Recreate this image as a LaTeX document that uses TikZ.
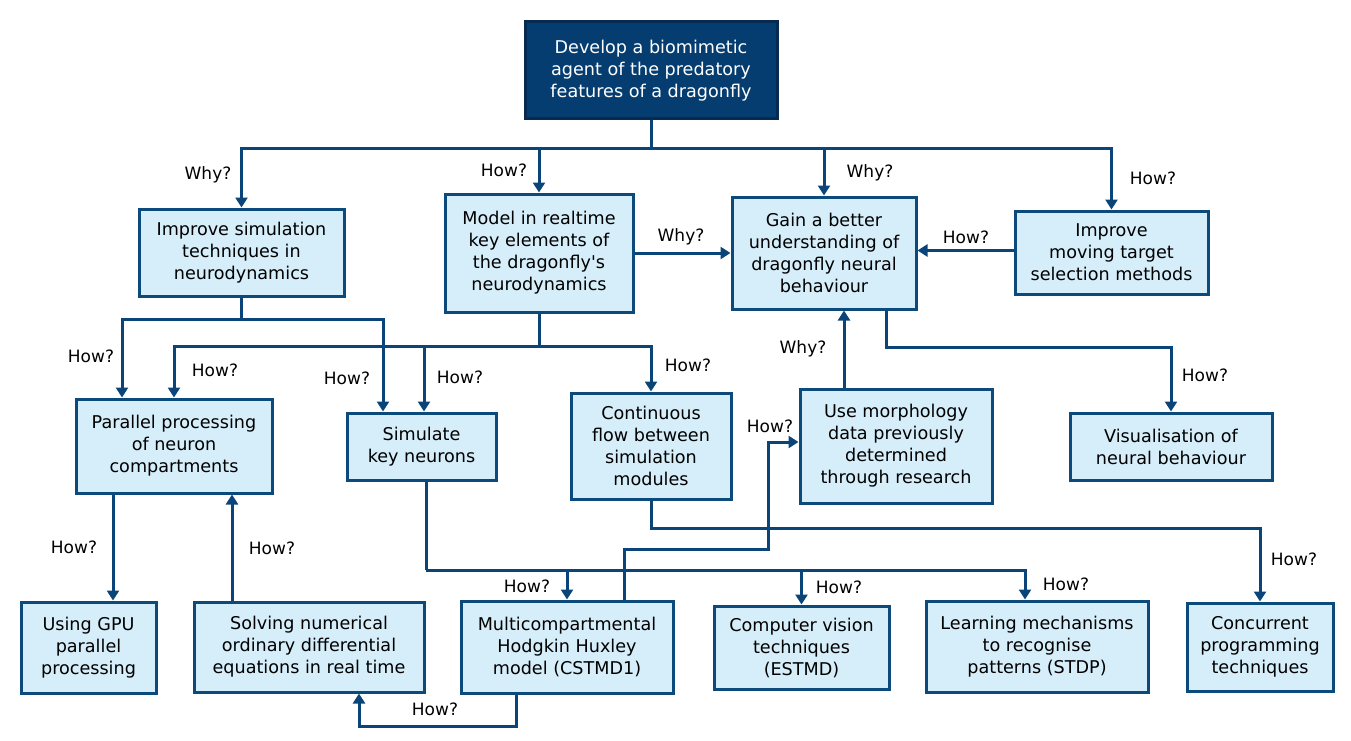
\documentclass[tikz,border=0pt]{standalone}
\usepackage{fontspec}
\setmainfont{DejaVu Sans}
\usetikzlibrary{arrows.meta}
\definecolor{navy}{HTML}{0A4478}
\definecolor{boxfill}{HTML}{D5EEFA}
\definecolor{boxline}{HTML}{0C4A7C}
\definecolor{topfill}{HTML}{053D70}
\definecolor{topline}{HTML}{062A50}
\begin{document}
\begin{tikzpicture}[x=1pt,y=-1pt,
  box/.style={draw=boxline, fill=boxfill, line width=3pt, align=center, inner sep=0pt, font=\fontsize{17.6}{22}\selectfont},
  topbox/.style={box, draw=topline, fill=topfill, text=white},
  ln/.style={draw=navy, line width=3pt},
  arr/.style={ln, -{Triangle[width=12pt,length=10pt]}},
  lab/.style={font=\fontsize{17}{20}\selectfont, inner sep=0pt}]
\useasboundingbox (0,0) rectangle (1351,741);

% boxes
\node[topbox, minimum width=252, minimum height=97] (top) at (651,70.5) {Develop a biomimetic\\agent of the predatory\\features of a dragonfly};
\node[box, minimum width=205, minimum height=87] (isim) at (241.5,252.5) {Improve simulation\\techniques in\\neurodynamics};
\node[box, minimum width=188, minimum height=118] (model) at (539,253) {Model in realtime\\key elements of\\the dragonfly\textquotesingle s\\neurodynamics};
\node[box, minimum width=184, minimum height=112] (gain) at (824,253) {Gain a better\\understanding of\\dragonfly neural\\behaviour};
\node[box, minimum width=193, minimum height=83] (imov) at (1111.5,252.5) {Improve\\moving target\\selection methods};
\node[box, minimum width=196, minimum height=94] (par) at (174,446) {Parallel processing\\of neuron\\compartments};
\node[box, minimum width=149, minimum height=67] (sim) at (421.5,446.5) {Simulate\\key neurons};
\node[box, minimum width=160, minimum height=106] (cont) at (651,446) {Continuous\\flow between\\simulation\\modules};
\node[box, minimum width=192, minimum height=114] (morph) at (896,446) {Use morphology\\data previously\\determined\\through research};
\node[box, minimum width=202, minimum height=67] (vis) at (1171,446.5) {Visualisation of\\neural behaviour};
\node[box, minimum width=135, minimum height=91] (gpu) at (88.5,647.5) {Using GPU\\parallel\\processing};
\node[box, minimum width=230, minimum height=90] (solv) at (309,647) {Solving numerical\\ordinary differential\\equations in real time};
\node[box, minimum width=212, minimum height=92] (multi) at (567,647) {Multicompartmental\\Hodgkin Huxley\\model (CSTMD1)};
\node[box, minimum width=175, minimum height=83] (cv) at (801.5,647.5) {Computer vision\\techniques\\(ESTMD)};
\node[box, minimum width=222, minimum height=91] (learn) at (1037,646.5) {Learning mechanisms\\to recognise\\patterns (STDP)};
\node[box, minimum width=146, minimum height=88] (conc) at (1260,647) {Concurrent\\programming\\techniques};

% connectors from top
\coordinate (bus1) at (653,148);
\draw[ln] (top.south) -- (top.south |- bus1);
\draw[arr] (top.south |- bus1) -| (isim.north);
\draw[arr] (top.south |- bus1) -| (model.north);
\draw[arr] (top.south |- bus1) -| (gain.north);
\draw[arr] (top.south |- bus1) -| (imov.north);
\draw[arr] (model.east) -- (gain.west);
\draw[arr] ([yshift=2pt]imov.west) -- ([yshift=2pt]imov.west -| gain.east);

% from isim
\coordinate (bus2) at (244,319);
\draw[ln] (isim.south) -- (isim.south |- bus2);
\draw[arr] (isim.south |- bus2) -| ([xshift=-52pt]par.north);
\draw[arr] (isim.south |- bus2) -| ([xshift=-38.5pt]sim.north);

% from model
\coordinate (bus3) at (541,346);
\draw[ln] (model.south) -- (model.south |- bus3);
\draw[arr] (model.south |- bus3) -| (par.north);
\draw[arr] (model.south |- bus3) -| ([xshift=2.5pt]sim.north);
\draw[arr] (model.south |- bus3) -| (cont.north);

% from gain
\coordinate (g1) at ([xshift=62pt]gain.south);
\draw[arr] (g1) -- ++(0,37) -| (vis.north);

% morph -> gain
\coordinate (m1) at ([xshift=-52pt]morph.north);
\draw[arr] (m1) -- (m1 |- gain.south);

% par -> gpu, solv -> par
\coordinate (p1) at ([xshift=-61pt]par.south);
\draw[arr] (p1) -- (p1 |- gpu.north);
\coordinate (s1) at ([xshift=-77pt]solv.north);
\draw[arr] (s1) -- (s1 |- par.south);

% from sim
\coordinate (k1) at ([xshift=4.5pt]sim.south);
\coordinate (bus4) at (426,570);
\draw[ln] (k1) -- (k1 |- bus4);
\draw[arr] (k1 |- bus4) -| (multi.north);
\draw[arr] (k1 |- bus4) -| (cv.north);
\draw[arr] (k1 |- bus4) -| ([xshift=-12pt]learn.north);

% from cont
\draw[arr] (cont.south) -- ++(0,28) -| (conc.north);

% multi -> morph
\coordinate (t1) at ([xshift=57pt]multi.north);
\coordinate (j5) at (768,549);
\draw[arr] (t1) |- (j5) |- ([yshift=4pt]morph.west);

% multi -> solv
\coordinate (u1) at ([xshift=-51pt]multi.south);
\coordinate (j6) at (359,726);
\draw[arr] (u1) |- (j6) -- (j6 |- solv.south);

% labels
\node[lab] (l1) at (208,175) {Why?};
\node[lab] (l2) at (504,170) {How?};
\node[lab] (l3) at (870,173) {Why?};
\node[lab] (l4) at (1153,178) {How?};
\node[lab] (l5) at (681,237) {Why?};
\node[lab] (l6) at (966,237) {How?};
\node[lab] (l7) at (91,356) {How?};
\node[lab] (l8) at (215,370) {How?};
\node[lab] (l9) at (347,378) {How?};
\node[lab] (l10) at (460,377) {How?};
\node[lab] (l11) at (688,365) {How?};
\node[lab] (l12) at (803,349) {Why?};
\node[lab] (l13) at (770,426) {How?};
\node[lab] (l14) at (1205,375) {How?};
\node[lab] (l15) at (74,547) {How?};
\node[lab] (l16) at (272,548) {How?};
\node[lab] (l17) at (527,586) {How?};
\node[lab] (l18) at (839,587) {How?};
\node[lab] (l19) at (1066,584) {How?};
\node[lab] (l20) at (1294,559) {How?};
\node[lab] (l21) at (435,709) {How?};
\end{tikzpicture}
\end{document}
